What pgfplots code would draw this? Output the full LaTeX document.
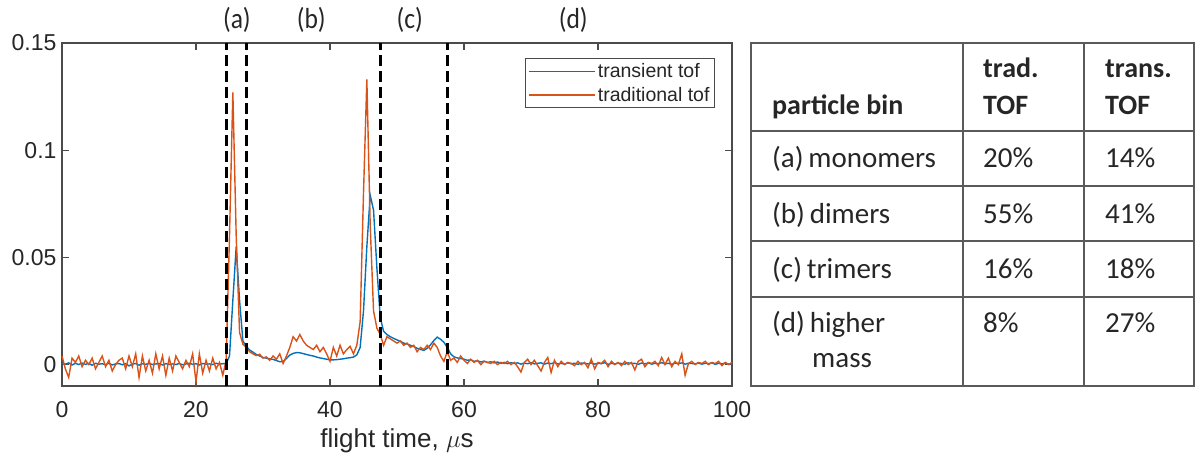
\documentclass[border=0pt]{standalone}
\usepackage{pgfplots}
\usepackage{pgfplotstable}
\pgfplotsset{compat=1.18}
\usepackage{fontspec}
\setmainfont{Liberation Sans}
\newfontfamily\calibri{Carlito}
\newfontfamily\calibricond{Carlito}[FakeStretch=0.88]
\definecolor{mblue}{RGB}{0,114,189}
\definecolor{morange}{RGB}{217,83,25}
\definecolor{axgray}{RGB}{75,75,75}
\definecolor{tabgray}{RGB}{90,90,90}

\pgfplotstableread{
x y
0 0.0005
0.5 0.0002
1 0.0008
1.5 -0.0002
2 0.0006
2.5 0.0000
3 0.0007
3.5 0.0001
4 0.0005
4.5 -0.0003
5 0.0006
5.5 0.0002
6 0.0004
6.5 0.0000
7 0.0006
7.5 -0.0002
8 0.0003
8.5 0.0005
9 -0.0001
9.5 0.0004
10 -0.0006
10.5 0.0002
11 0.0005
11.5 -0.0003
12 0.0004
12.5 0.0001
13 0.0006
13.5 0.0000
14 0.0003
14.5 0.0005
15 -0.0002
15.5 0.0004
16 0.0001
16.5 0.0003
17 0.0000
17.5 0.0005
18 -0.0001
18.5 0.0003
19 0.0006
19.5 0.0001
20 0.0004
20.5 -0.0002
21 0.0005
21.5 0.0002
22 0.0003
22.5 0.0000
23 0.0006
23.5 0.0002
24 0.0004
24.5 0.0005
25 0.0040
25.5 0.0300
26 0.0550
26.5 0.0300
27 0.0110
27.5 0.0085
28 0.0068
28.5 0.0058
29 0.0047
29.5 0.0040
30 0.0033
30.5 0.0030
31 0.0027
31.5 0.0024
32 0.0019
32.5 0.0013
33 0.0014
33.5 0.0028
34 0.0044
34.5 0.0052
35 0.0056
35.5 0.0055
36 0.0051
36.5 0.0047
37 0.0043
37.5 0.0040
38 0.0035
38.5 0.0031
39 0.0028
39.5 0.0025
40 0.0022
40.5 0.0022
41 0.0023
41.5 0.0025
42 0.0027
42.5 0.0030
43 0.0032
43.5 0.0035
44 0.0045
44.5 0.0080
45 0.0250
45.5 0.0550
46 0.0790
46.5 0.0720
47 0.0450
47.5 0.0220
48 0.0155
48.5 0.0140
49 0.0130
49.5 0.0122
50 0.0115
50.5 0.0108
51 0.0100
51.5 0.0096
52 0.0090
52.5 0.0084
53 0.0076
53.5 0.0071
54 0.0066
54.5 0.0076
55 0.0092
55.5 0.0112
56 0.0128
56.5 0.0118
57 0.0104
57.5 0.0080
58 0.0050
58.5 0.0036
59 0.0031
59.5 0.0028
60 0.0025
60.5 0.0020
61 0.0022
61.5 0.0015
62 0.0018
62.5 0.0012
63 0.0016
63.5 0.0010
64 0.0013
64.5 0.0008
65 0.0012
65.5 0.0006
66 0.0010
66.5 0.0004
67 0.0009
67.5 0.0005
68 0.0008
68.5 0.0002
69 0.0007
69.5 0.0004
70 0.0009
70.5 0.0003
71 0.0006
71.5 0.0008
72 0.0002
72.5 0.0007
73 0.0004
73.5 0.0009
74 0.0003
74.5 0.0006
75 0.0002
75.5 0.0008
76 0.0004
76.5 0.0006
77 0.0001
77.5 0.0007
78 0.0005
78.5 0.0003
79 0.0008
79.5 0.0002
80 0.0006
80.5 0.0004
81 0.0009
81.5 0.0001
82 0.0006
82.5 0.0003
83 0.0007
83.5 0.0005
84 0.0002
84.5 0.0008
85 0.0004
85.5 0.0006
86 0.0001
86.5 0.0007
87 0.0003
87.5 0.0008
88 0.0002
88.5 0.0006
89 0.0004
89.5 0.0009
90 0.0003
90.5 0.0006
91 0.0001
91.5 0.0007
92 0.0004
92.5 0.0008
93 0.0002
93.5 0.0006
94 0.0005
94.5 0.0003
95 0.0007
95.5 0.0002
96 0.0006
96.5 0.0004
97 0.0008
97.5 0.0001
98 0.0006
98.5 0.0003
99 0.0007
99.5 0.0002
100 0.0005
}\transient

\pgfplotstableread{
x y
0 0.0040
0.5 -0.0020
1 -0.0060
1.5 0.0030
2 0.0010
2.5 0.0040
3 -0.0010
3.5 0.0020
4 0.0000
4.5 0.0030
5 -0.0020
5.5 0.0010
6 0.0040
6.5 -0.0010
7 0.0020
7.5 -0.0030
8 0.0000
8.5 0.0020
9 0.0030
9.5 -0.0020
10 0.0040
10.5 -0.0010
11 0.0050
11.5 -0.0060
12 0.0040
12.5 -0.0030
13 0.0020
13.5 -0.0040
14 0.0050
14.5 -0.0020
15 0.0040
15.5 -0.0050
16 0.0030
16.5 -0.0030
17 0.0040
17.5 0.0010
18 -0.0020
18.5 0.0020
19 -0.0010
19.5 0.0050
20 -0.0080
20.5 0.0050
21 -0.0040
21.5 0.0020
22 -0.0030
22.5 0.0030
23 -0.0020
23.5 0.0010
24 -0.0050
24.5 0.0020
25 0.0600
25.5 0.1270
26 0.0600
26.5 0.0150
27 0.0095
27.5 0.0080
28 0.0060
28.5 0.0050
29 0.0042
29.5 0.0048
30 0.0030
30.5 0.0036
31 0.0020
31.5 0.0040
32 0.0025
32.5 0.0050
33 0.0005
33.5 0.0040
34 0.0080
34.5 0.0130
35 0.0110
35.5 0.0140
36 0.0110
36.5 0.0090
37 0.0080
37.5 0.0070
38 0.0090
38.5 0.0060
39 0.0080
39.5 0.0050
40 0.0015
40.5 0.0080
41 0.0040
41.5 0.0090
42 0.0050
42.5 0.0070
43 0.0085
43.5 0.0050
44 0.0090
44.5 0.0200
45 0.0800
45.5 0.1330
46 0.0650
46.5 0.0250
47 0.0170
47.5 0.0140
48 0.0090
48.5 0.0130
49 0.0120
49.5 0.0110
50 0.0100
50.5 0.0110
51 0.0090
51.5 0.0100
52 0.0080
52.5 0.0090
53 0.0060
53.5 0.0080
54 0.0070
54.5 0.0090
55 0.0070
55.5 0.0100
56 0.0080
56.5 0.0040
57 0.0015
57.5 0.0060
58 0.0020
58.5 0.0030
59 0.0010
59.5 0.0040
60 0.0020
60.5 0.0005
61 0.0025
61.5 0.0010
62 0.0020
62.5 0.0000
63 0.0015
63.5 0.0010
64 0.0005
64.5 0.0015
65 0.0000
65.5 0.0010
66 0.0005
66.5 0.0015
67 0.0000
67.5 0.0010
68 -0.0010
68.5 -0.0035
69 0.0010
69.5 0.0025
70 0.0000
70.5 0.0020
71 -0.0005
71.5 -0.0030
72 0.0010
72.5 0.0033
73 -0.0037
73.5 0.0020
74 -0.0010
74.5 0.0015
75 0.0000
75.5 0.0010
76 0.0005
76.5 -0.0005
77 0.0015
77.5 0.0000
78 0.0010
78.5 -0.0015
79 0.0025
79.5 -0.0020
80 0.0010
80.5 0.0005
81 0.0020
81.5 -0.0010
82 0.0015
82.5 0.0000
83 0.0010
83.5 -0.0005
84 0.0015
84.5 0.0000
85 0.0010
85.5 -0.0025
86 0.0015
86.5 0.0025
87 -0.0010
87.5 0.0010
88 0.0005
88.5 0.0015
89 -0.0005
89.5 0.0033
90 0.0000
90.5 0.0030
91 -0.0010
91.5 0.0015
92 0.0000
92.5 0.0050
93 -0.0050
93.5 0.0005
94 0.0015
94.5 0.0000
95 0.0010
95.5 0.0005
96 0.0015
96.5 0.0000
97 0.0010
97.5 0.0005
98 0.0015
98.5 -0.0005
99 0.0010
99.5 0.0000
100 0.0010
}\traditional

\begin{document}
\begin{tikzpicture}
\begin{axis}[
  at={(62pt,70pt)}, anchor=south west,
  scale only axis, width=670pt, height=343pt,
  xmin=0, xmax=100, ymin=-0.01, ymax=0.15,
  xtick={0,20,40,60,80,100}, xticklabels={0,20,40,60,80,100},
  ytick={0,0.05,0.1,0.15}, yticklabels={0,0.05,0.1,0.15},
  tick align=inside, major tick length=7pt,
  axis line style={axgray, line width=1.3pt},
  every tick/.style={axgray, line width=1.3pt},
  tick label style={font=\fontsize{23}{27}\selectfont, text=black!85},
  xticklabel style={yshift=-12pt},
  yticklabel style={xshift=-2pt},
  xlabel={flight time, $\mu$s},
  xlabel style={font=\fontsize{26}{30}\selectfont, text=black!85, yshift=-4pt},
  clip=false,
  legend style={at={(1,1)}, anchor=north east, xshift=-17pt, yshift=-15pt,
    draw=axgray, line width=1pt, font=\fontsize{19.5}{23}\selectfont,
    inner sep=3pt, row sep=4pt, text=black!85},
  legend cell align=left,
  legend image code/.code={\draw[#1, line width=1.5pt] (0pt,0pt) -- (66pt,0pt);},
]
\addplot[mblue, line width=1.4pt] table[x=x,y=y] {\transient};
\addlegendentry{transient tof}
\addplot[morange, line width=1.4pt] table[x=x,y=y] {\traditional};
\addlegendentry{traditional tof}
\addplot[black, line width=3pt, dash pattern=on 11pt off 5pt, forget plot] coordinates {(24.6,-0.01) (24.6,0.15)};
\addplot[black, line width=3pt, dash pattern=on 11pt off 5pt, forget plot] coordinates {(27.6,-0.01) (27.6,0.15)};
\addplot[black, line width=3pt, dash pattern=on 11pt off 5pt, forget plot] coordinates {(47.6,-0.01) (47.6,0.15)};
\addplot[black, line width=3pt, dash pattern=on 11pt off 5pt, forget plot] coordinates {(57.5,-0.01) (57.5,0.15)};
\node[font=\calibricond\fontsize{29}{31}\selectfont, text=black!85] at (axis cs:26.1,0.1607) {(a)};
\node[font=\calibricond\fontsize{29}{31}\selectfont, text=black!85] at (axis cs:37.2,0.1607) {(b)};
\node[font=\calibricond\fontsize{29}{31}\selectfont, text=black!85] at (axis cs:51.9,0.1607) {(c)};
\node[font=\calibricond\fontsize{29}{31}\selectfont, text=black!85] at (axis cs:76.3,0.1607) {(d)};
\end{axis}
% table
\draw[tabgray, line width=2.5pt] (751pt,70pt) rectangle (1194pt,413pt);
\draw[tabgray, line width=2.5pt] (963pt,70pt) -- (963pt,413pt);
\draw[tabgray, line width=2.5pt] (1084pt,70pt) -- (1084pt,413pt);
\foreach \yy in {325,270,215,159} {\draw[tabgray, line width=2.5pt] (751pt,\yy pt) -- (1194pt,\yy pt);}
\begin{scope}[every node/.style={anchor=base west, inner sep=0pt, text=black!85, font=\calibri\fontsize{29}{31}\selectfont}]
\node[font=\calibri\bfseries\fontsize{28}{30}\selectfont] at (772pt,341pt) {particle bin};
\node[font=\calibri\bfseries\fontsize{28}{30}\selectfont] at (983pt,378pt) {trad.};
\node[font=\calibri\bfseries\fontsize{28}{30}\selectfont] at (983pt,341pt) {TOF};
\node[font=\calibri\bfseries\fontsize{28}{30}\selectfont] at (1105pt,378pt) {trans.};
\node[font=\calibri\bfseries\fontsize{28}{30}\selectfont] at (1105pt,341pt) {TOF};
\node at (772pt,288pt) {(a)\,monomers};
\node at (983pt,288pt) {20\%};
\node at (1105pt,288pt) {14\%};
\node at (772pt,233pt) {(b)\,dimers};
\node at (983pt,233pt) {55\%};
\node at (1105pt,233pt) {41\%};
\node at (772pt,178pt) {(c)\,trimers};
\node at (983pt,178pt) {16\%};
\node at (1105pt,178pt) {18\%};
\node at (772pt,124pt) {(d)\,higher};
\node at (812pt,89pt) {mass};
\node at (983pt,124pt) {8\%};
\node at (1105pt,124pt) {27\%};
\end{scope}
\pgfresetboundingbox
\path[use as bounding box] (0pt,0pt) rectangle (1196pt,456pt);
\end{tikzpicture}
\end{document}
